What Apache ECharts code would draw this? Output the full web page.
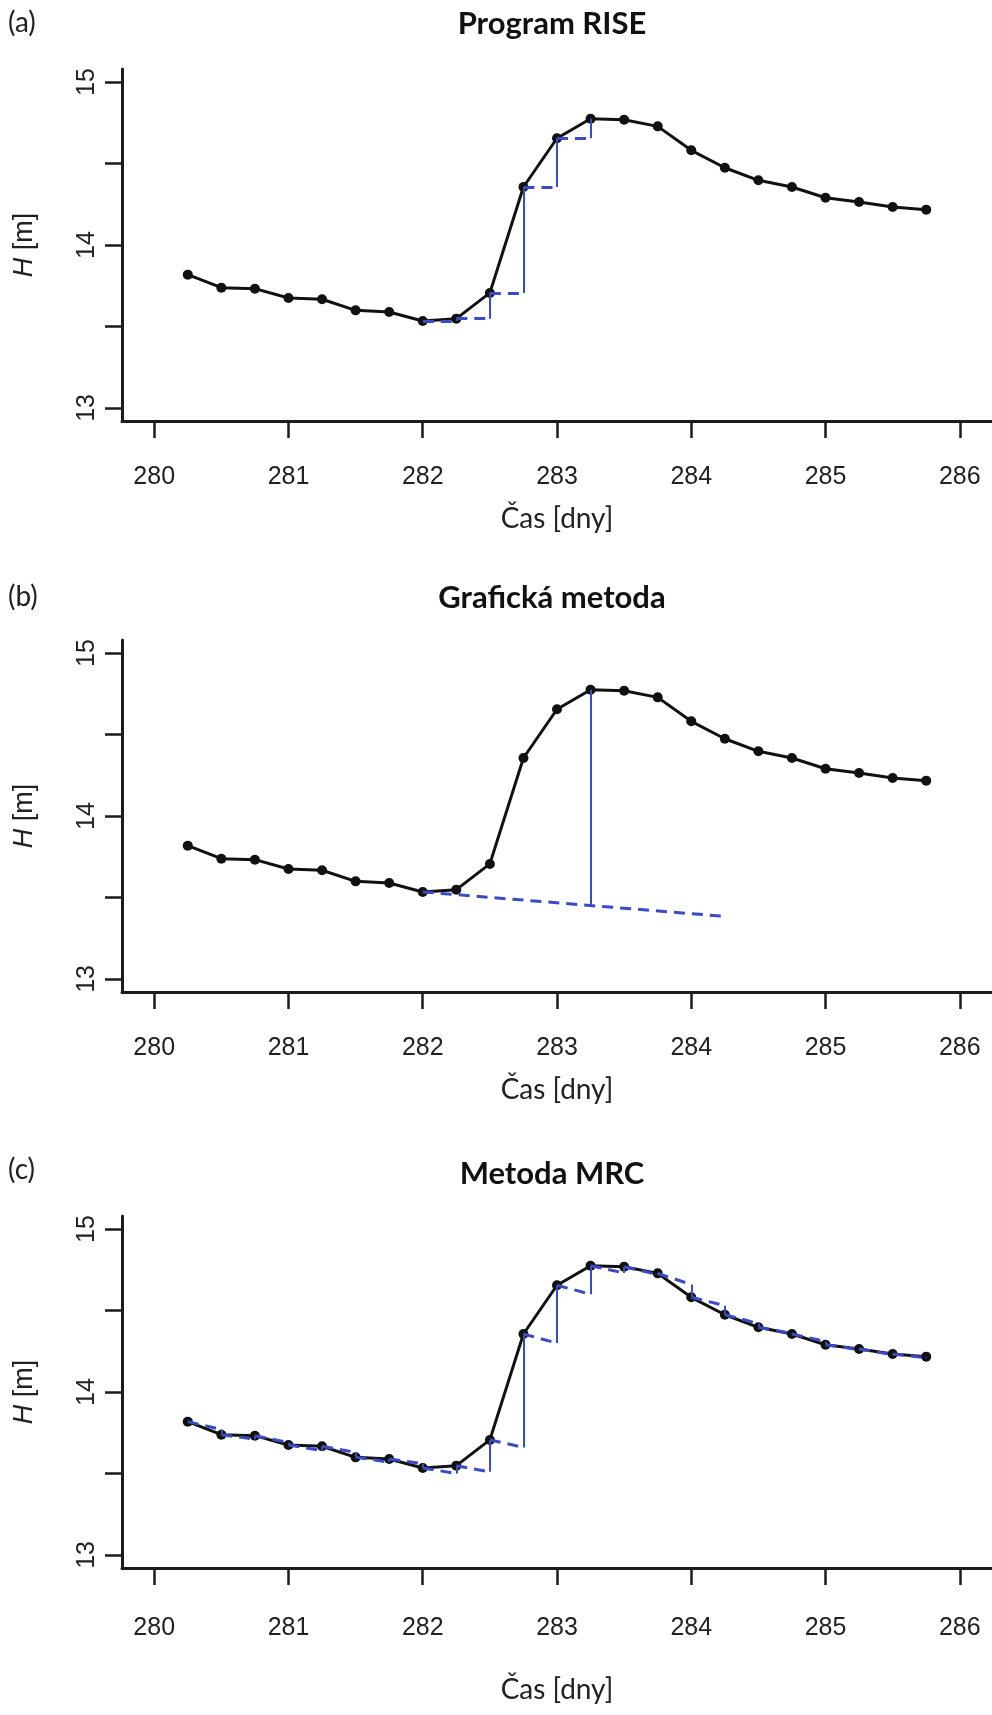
<!DOCTYPE html>
<html><head><meta charset="utf-8">
<script src="https://cdn.jsdelivr.net/npm/echarts@6/dist/echarts.min.js"></script>
<style>html,body{margin:0;padding:0;background:#fff}#c{width:992px;height:1715px}</style>
</head><body><div id="c"></div><script>
// ---- data ----
const times = [280.25,280.5,280.75,281,281.25,281.5,281.75,282,282.25,282.5,282.75,283,283.25,283.5,283.75,284,284.25,284.5,284.75,285,285.25,285.5,285.75];
const waterLevel = [13.818,13.738,13.732,13.675,13.667,13.599,13.589,13.534,13.548,13.706,14.356,14.655,14.775,14.769,14.728,14.581,14.474,14.397,14.356,14.290,14.264,14.233,14.217];
const xTickValues = [280,281,282,283,284,285,286];
const yTickValues = [13,13.5,14,14.5,15];
const yLabelValues = [13,14,15];
const panelTitles = ['Program RISE','Grafická metoda','Metoda MRC'];
const panelLetters = ['(a)','(b)','(c)'];
const xAxisTitle = 'Čas [dny]';
// (a) RISE step levels
const riseTimes = [282,282.25,282.5,282.75,283,283.25];
const riseLevels = [13.534,13.548,13.706,14.356,14.655,14.775];
// (b) graphical method: extrapolated recession and peak
const baselineTimes = [282,284.25];
const baselineLevels = [13.534,13.384];
const peakTime = 283.25;
const peakLevel = 14.775;
const peakBaseLevel = 13.451;
// (c) MRC predicted level at times[1..]
const mrcPredicted = [13.77,13.71,13.69,13.64,13.63,13.57,13.56,13.50,13.51,13.66,14.30,14.60,14.73,14.72,14.66,14.53,14.42,14.36,14.31,14.26,14.23,14.21];

// ---- layout ----
const panelShift = [0,571,1147];
const gridTop = 69, gridLeft = 122, gridWidth = 871, gridHeight = 352;
const BLACK = '#111111', AXIS = '#1c1c1c', BLUE = '#3a4bc4';
const titleY = [24, 598, 1174];
const letterY = [23, 597, 1170];
const xNameGap = [84, 84, 108];
const xLabelMargin = [44, 44, 48];

const grids = [], xAxes = [], yAxes = [], series = [], graphics = [];
for (let i = 0; i < 3; i++) {
  grids.push({left: gridLeft, top: gridTop + panelShift[i], width: gridWidth, height: gridHeight});
  xAxes.push({
    gridIndex: i, type: 'value', min: 279.76, max: 286.24,
    axisLine: {show: true, lineStyle: {color: AXIS, width: 3}},
    axisTick: {show: true, customValues: xTickValues, length: 17, lineStyle: {color: AXIS, width: 2.5}},
    axisLabel: {customValues: xTickValues, margin: xLabelMargin[i], fontSize: 25, fontFamily: 'Liberation Sans', color: '#222'},
    splitLine: {show: false},
    name: xAxisTitle, nameLocation: 'middle', nameGap: xNameGap[i],
    nameTextStyle: {fontFamily: 'Lato', fontSize: 28, color: '#222'}
  });
  yAxes.push({
    gridIndex: i, type: 'value', min: 12.92, max: 15.08,
    axisLine: {show: true, lineStyle: {color: AXIS, width: 3}},
    axisTick: {show: true, customValues: yTickValues, length: 17, lineStyle: {color: AXIS, width: 2.5}},
    axisLabel: {customValues: yLabelValues, rotate: 90, margin: 22, fontSize: 25, fontFamily: 'Liberation Sans', color: '#222'},
    splitLine: {show: false},
    name: '{i|H} [m]', nameLocation: 'middle', nameRotate: 90, nameGap: 84,
    nameTextStyle: {fontFamily: 'Liberation Sans', fontSize: 27, color: '#222',
      rich: {i: {fontStyle: 'italic', fontFamily: 'Liberation Sans', fontSize: 27, color: '#222'}}}
  });
  series.push({
    type: 'line', xAxisIndex: i, yAxisIndex: i, z: 2,
    data: times.map((t, k) => [t, waterLevel[k]]),
    symbol: 'circle', symbolSize: 10, showSymbol: true,
    itemStyle: {color: BLACK}, lineStyle: {color: BLACK, width: 3}
  });
  graphics.push({type: 'text', x: 8, y: letterY[i],
    style: {text: panelLetters[i], font: '28px Lato', fill: '#222', align: 'left', verticalAlign: 'middle'}});
  graphics.push({type: 'text', x: 552, y: titleY[i],
    style: {text: panelTitles[i], font: 'bold 31px Lato', fill: '#111', align: 'center', verticalAlign: 'middle'}});
}

function segSeries(idx, coordsList, dashed, width) {
  return {
    type: 'lines', coordinateSystem: 'cartesian2d', xAxisIndex: idx, yAxisIndex: idx, z: 3,
    polyline: false, silent: true,
    lineStyle: {color: BLUE, width: width, opacity: 1, type: dashed ? [11, 7] : 'solid'},
    data: coordsList.map(c => ({coords: c}))
  };
}

// (a) RISE steps
const riseH = [], riseV = [];
for (let k = 0; k < riseTimes.length - 1; k++) {
  riseH.push([[riseTimes[k], riseLevels[k]], [riseTimes[k + 1], riseLevels[k]]]);
  riseV.push([[riseTimes[k + 1], riseLevels[k]], [riseTimes[k + 1], riseLevels[k + 1]]]);
}
series.push(segSeries(0, riseH, true, 3));
series.push(segSeries(0, riseV, false, 2));

// (b) graphical method
series.push(segSeries(1, [[[baselineTimes[0], baselineLevels[0]], [baselineTimes[1], baselineLevels[1]]]], true, 3));
series.push(segSeries(1, [[[peakTime, peakLevel], [peakTime, peakBaseLevel]]], false, 2));

// (c) MRC
const mrcH = [], mrcV = [];
for (let k = 0; k < mrcPredicted.length; k++) {
  mrcH.push([[times[k], waterLevel[k]], [times[k + 1], mrcPredicted[k]]]);
  mrcV.push([[times[k + 1], mrcPredicted[k]], [times[k + 1], waterLevel[k + 1]]]);
}
series.push(segSeries(2, mrcH, true, 3));
series.push(segSeries(2, mrcV, false, 2));

const chart = echarts.init(document.getElementById('c'), null, {renderer: 'canvas'});
chart.setOption({
  animation: false, backgroundColor: '#fff',
  grid: grids, xAxis: xAxes, yAxis: yAxes, series: series, graphic: graphics
});
</script></body></html>
